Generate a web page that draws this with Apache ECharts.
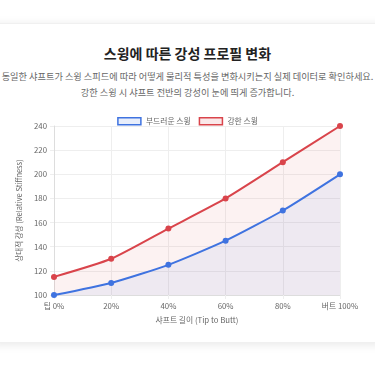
<!DOCTYPE html>
<html><head><meta charset="utf-8">
<script src="https://cdn.jsdelivr.net/npm/echarts@6/dist/echarts.min.js"></script>
<style>
html,body{margin:0;padding:0;background:#fff;width:375px;height:366px;overflow:hidden;}
#card{position:absolute;left:-10px;top:23px;width:395px;height:318px;background:#fff;box-shadow:0 2px 10px rgba(0,0,0,0.10);border-top:1px solid #f0f0f0;}
#chart{position:absolute;left:0;top:0;width:375px;height:366px;}
#title{position:absolute;left:0;width:375px;top:43px;text-align:center;font-family:"Noto Sans CJK KR",sans-serif;font-weight:bold;font-size:14px;color:#222;line-height:20px;}
#sub{position:absolute;left:-10px;width:395px;top:68px;text-align:center;font-family:"Noto Sans CJK KR",sans-serif;font-size:9.2px;color:#666;line-height:16px;letter-spacing:0px;}
</style></head>
<body>
<div id="card"></div>
<div id="title"></div>
<div id="sub"></div>
<div id="chart"></div>
<script>
const categories = ['팁 0%', '20%', '40%', '60%', '80%', '버트 100%'];
const softSwing = [100, 110, 125, 145, 170, 200];
const strongSwing = [115, 130, 155, 180, 210, 240];
const seriesNames = ['부드러운 스윙', '강한 스윙'];
const titleText = '스윙에 따른 강성 프로필 변화';
const subLines = ['동일한 샤프트가 스윙 스피드에 따라 어떻게 물리적 특성을 변화시키는지 실제 데이터로 확인하세요.', '강한 스윙 시 샤프트 전반의 강성이 눈에 띄게 증가합니다.'];
const yAxisName = '상대적 강성 (Relative Stiffness)';
const xAxisName = '샤프트 길이 (Tip to Butt)';

document.getElementById('title').textContent = titleText;
document.getElementById('sub').innerHTML = subLines.map(s => s.replace(/&/g,'&amp;').replace(/</g,'&lt;')).join('<br>');

const blue = '#3f73e0';
const red = '#d9444b';
const font = '"Noto Sans CJK KR", "Noto Sans", sans-serif';

const chart = echarts.init(document.getElementById('chart'), null, {renderer:'canvas'});
chart.setOption({
  backgroundColor: 'transparent',
  animation: false,
  textStyle: {fontFamily: font},
  legend: {
    top: 112,
    left: 'center',
    icon: 'rect',
    itemWidth: 23,
    itemHeight: 7,
    itemGap: 8,
    itemTextGap: 5,
    textStyle: {fontSize: 7.8, color: '#666'},
    data: [
      {name: seriesNames[0], itemStyle: {color: 'rgba(63,115,224,0.12)', borderColor: blue, borderWidth: 1.5}},
      {name: seriesNames[1], itemStyle: {color: 'rgba(217,68,75,0.12)', borderColor: red, borderWidth: 1.5}}
    ]
  },
  grid: {left: 54, right: 35, top: 126, bottom: 71, containLabel: false},
  xAxis: {
    type: 'category',
    data: categories,
    boundaryGap: false,
    name: xAxisName,
    nameLocation: 'middle',
    nameGap: 21,
    nameTextStyle: {fontSize: 7.8, color: '#666'},
    axisLine: {lineStyle: {color: '#ddd'}},
    axisTick: {show: true, length: 4, lineStyle: {color: '#eee'}},
    axisLabel: {fontSize: 7.8, color: '#666', margin: 7},
    splitLine: {show: true, lineStyle: {color: '#eee'}}
  },
  yAxis: {
    type: 'value',
    min: 100,
    max: 240,
    interval: 20,
    name: yAxisName,
    nameLocation: 'middle',
    nameGap: 22,
    nameTextStyle: {fontSize: 7.5, color: '#666'},
    axisLine: {show: true, lineStyle: {color: '#ddd'}},
    axisTick: {show: true, length: 4, lineStyle: {color: '#eee'}},
    axisLabel: {fontSize: 7.8, color: '#666', margin: 7},
    splitLine: {show: true, lineStyle: {color: '#eee'}}
  },
  series: [
    {
      name: seriesNames[1], type: 'line', data: strongSwing, smooth: 0.2,
      symbol: 'circle', symbolSize: 6,
      lineStyle: {color: red, width: 2},
      itemStyle: {color: red},
      areaStyle: {color: 'rgba(217,68,75,0.10)', origin: 'start'}, z: 2
    },
    {
      name: seriesNames[0], type: 'line', data: softSwing, smooth: 0.2,
      symbol: 'circle', symbolSize: 6,
      lineStyle: {color: blue, width: 2},
      itemStyle: {color: blue},
      areaStyle: {color: 'rgba(63,115,224,0.10)', origin: 'start'}, z: 3
    }
  ]
});
</script>
</body></html>
